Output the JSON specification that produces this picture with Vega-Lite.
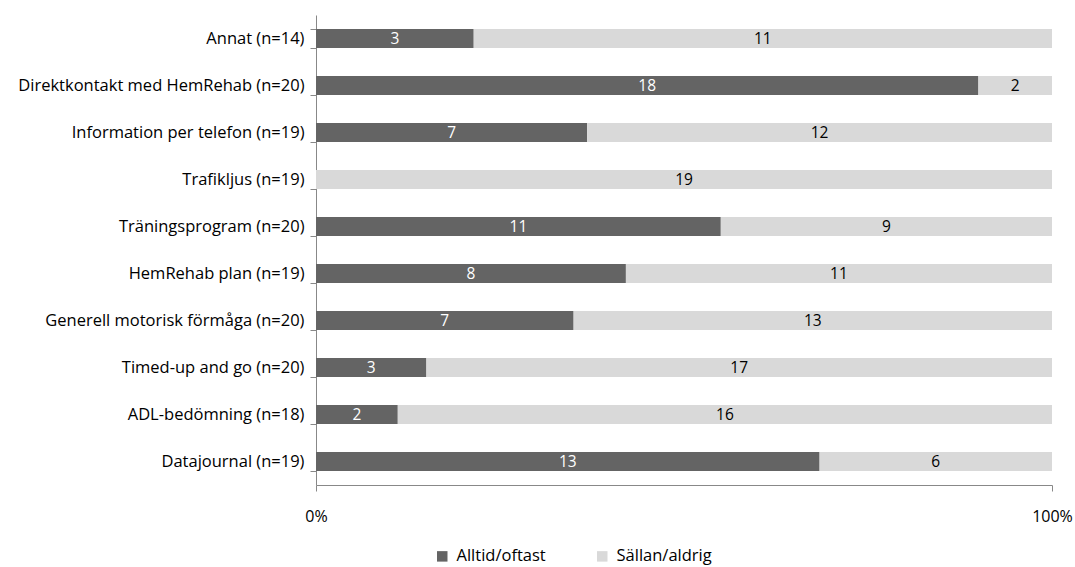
{
  "$schema": "https://vega.github.io/schema/vega-lite/v6.json",
  "autosize": {"type": "none"},
  "width": 736,
  "height": 470,
  "padding": {"left": 316, "top": 15, "right": 23, "bottom": 82},
  "background": "white",
  "config": {
    "view": {"stroke": null},
    "font": "Open Sans",
    "axis": {"labelFont": "Open Sans", "labelColor": "#000000"},
    "legend": {"labelFont": "Open Sans"}
  },
  "data": {
    "values": [
      {"item": "Annat (n=14)", "answer": "Alltid/oftast", "value": 3},
      {"item": "Annat (n=14)", "answer": "Sällan/aldrig", "value": 11},
      {"item": "Direktkontakt med HemRehab (n=20)", "answer": "Alltid/oftast", "value": 18},
      {"item": "Direktkontakt med HemRehab (n=20)", "answer": "Sällan/aldrig", "value": 2},
      {"item": "Information per telefon (n=19)", "answer": "Alltid/oftast", "value": 7},
      {"item": "Information per telefon (n=19)", "answer": "Sällan/aldrig", "value": 12},
      {"item": "Trafikljus (n=19)", "answer": "Alltid/oftast", "value": 0},
      {"item": "Trafikljus (n=19)", "answer": "Sällan/aldrig", "value": 19},
      {"item": "Träningsprogram (n=20)", "answer": "Alltid/oftast", "value": 11},
      {"item": "Träningsprogram (n=20)", "answer": "Sällan/aldrig", "value": 9},
      {"item": "HemRehab plan (n=19)", "answer": "Alltid/oftast", "value": 8},
      {"item": "HemRehab plan (n=19)", "answer": "Sällan/aldrig", "value": 11},
      {"item": "Generell motorisk förmåga (n=20)", "answer": "Alltid/oftast", "value": 7},
      {"item": "Generell motorisk förmåga (n=20)", "answer": "Sällan/aldrig", "value": 13},
      {"item": "Timed-up and go (n=20)", "answer": "Alltid/oftast", "value": 3},
      {"item": "Timed-up and go (n=20)", "answer": "Sällan/aldrig", "value": 17},
      {"item": "ADL-bedömning (n=18)", "answer": "Alltid/oftast", "value": 2},
      {"item": "ADL-bedömning (n=18)", "answer": "Sällan/aldrig", "value": 16},
      {"item": "Datajournal (n=19)", "answer": "Alltid/oftast", "value": 13},
      {"item": "Datajournal (n=19)", "answer": "Sällan/aldrig", "value": 6}
    ]
  },
  "encoding": {
    "y": {
      "field": "item",
      "type": "nominal",
      "sort": ["Annat (n=14)", "Direktkontakt med HemRehab (n=20)", "Information per telefon (n=19)", "Trafikljus (n=19)", "Träningsprogram (n=20)", "HemRehab plan (n=19)", "Generell motorisk förmåga (n=20)", "Timed-up and go (n=20)", "ADL-bedömning (n=18)", "Datajournal (n=19)"],
      "scale": {"paddingInner": 0.6, "paddingOuter": 0.3},
      "axis": {"title": null, "tickBand": "extent", "tickSize": 6, "tickColor": "#888888", "domainColor": "#888888", "labelFontSize": 16.5, "labelPadding": 6, "labelLimit": 400}
    },
    "x": {
      "field": "value",
      "type": "quantitative",
      "stack": "normalize",
      "axis": {"title": null, "values": [0, 1], "format": "%", "grid": false, "tickSize": 6, "tickColor": "#888888", "domainColor": "#888888", "labelFontSize": 16, "labelPadding": 17, "labelFlush": false}
    }
  },
  "layer": [
    {
      "mark": {"type": "bar"},
      "encoding": {
        "color": {
          "field": "answer",
          "type": "nominal",
          "scale": {"domain": ["Alltid/oftast", "Sällan/aldrig"], "range": ["#646464", "#d9d9d9"]},
          "legend": {"title": null, "orient": "none", "legendX": 118, "legendY": 533, "direction": "horizontal", "symbolType": "square", "symbolSize": 110, "symbolStrokeWidth": 0, "labelFontSize": 16.5, "columnPadding": 48, "labelOffset": 6}
        }
      }
    },
    {
      "transform": [{"filter": "datum.value > 0"}],
      "mark": {"type": "text", "fontSize": 15.5, "baseline": "middle", "align": "center"},
      "encoding": {
        "x": {"field": "value", "type": "quantitative", "stack": "normalize", "bandPosition": 0.5},
        "order": {"field": "answer", "sort": "ascending"},
        "detail": {"field": "answer"},
        "text": {"field": "value", "type": "quantitative"},
        "color": {
          "condition": {"test": "datum.answer === 'Alltid/oftast'", "value": "white"},
          "value": "#000000"
        }
      }
    }
  ]
}
